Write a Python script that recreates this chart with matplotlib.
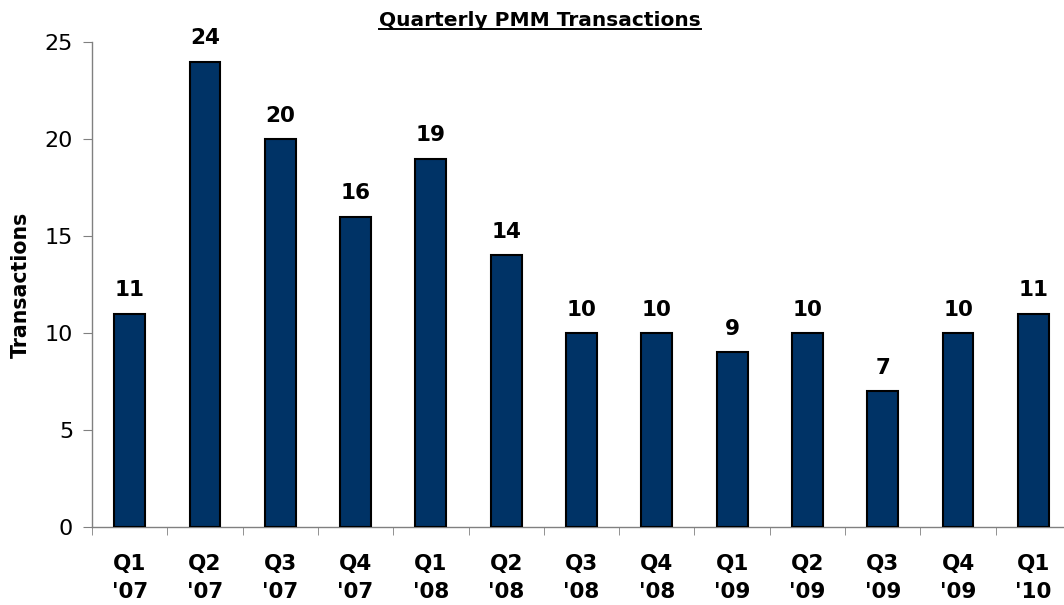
import matplotlib
matplotlib.use("Agg")
import matplotlib.pyplot as plt
from matplotlib.lines import Line2D
import numpy as np

quarters = ["Q1\n'07", "Q2\n'07", "Q3\n'07", "Q4\n'07",
            "Q1\n'08", "Q2\n'08", "Q3\n'08", "Q4\n'08",
            "Q1\n'09", "Q2\n'09", "Q3\n'09", "Q4\n'09", "Q1\n'10"]
transactions = [11, 24, 20, 16, 19, 14, 10, 10, 9, 10, 7, 10, 11]
y_ticks = [0, 5, 10, 15, 20, 25]

BAR_COLOR = "#003366"
AXIS_COLOR = "#808080"

plt.rcParams["font.family"] = ["DejaVu Sans"]

fig = plt.figure(figsize=(10.64, 6.05), dpi=100)
ax = fig.add_axes([92 / 1064, 1 - 526.7 / 605, 979 / 1064, (526.7 - 42.3) / 605])

x = np.arange(len(quarters))
ax.bar(x, transactions, width=0.41, color=BAR_COLOR,
       edgecolor="black", linewidth=1.5, zorder=3)

for xi, v in zip(x, transactions):
    ax.annotate(str(v), (xi, v), xytext=(0, 9.5), textcoords="offset points",
                ha="center", va="bottom", fontsize=15.5, fontweight="bold")

ax.set_xlim(-0.5, len(quarters) - 0.5)
ax.set_ylim(0, 25)
ax.set_yticks(y_ticks)
ax.tick_params(axis="y", labelsize=16, length=6.5, color=AXIS_COLOR, pad=7)

ax.set_xticks(x)
ax.set_xticklabels(quarters, fontsize=15.5, fontweight="bold", linespacing=1.45)
ax.tick_params(axis="x", which="major", length=0, pad=20)
ax.set_xticks(np.arange(len(quarters) + 1) - 0.5, minor=True)
ax.tick_params(axis="x", which="minor", length=6, color=AXIS_COLOR)

for side in ("top", "right"):
    ax.spines[side].set_visible(False)
for side in ("left", "bottom"):
    ax.spines[side].set_color(AXIS_COLOR)
    ax.spines[side].set_linewidth(1.0)

ax.set_ylabel("Transactions", fontsize=14.8, fontweight="bold", labelpad=10)

# title with underline
title = fig.text(540 / 1064, 1 - 21 / 605, "Quarterly PMM Transactions",
                 ha="center", va="center", fontsize=14.5, fontweight="bold")
fig.canvas.draw()
bb = title.get_window_extent().transformed(fig.transFigure.inverted())
uy = bb.y0 + 0.003
fig.add_artist(Line2D([bb.x0, bb.x1], [uy, uy], color="black", linewidth=1.4,
                      transform=fig.transFigure))

fig.savefig("out.png", dpi=100, facecolor="white")
